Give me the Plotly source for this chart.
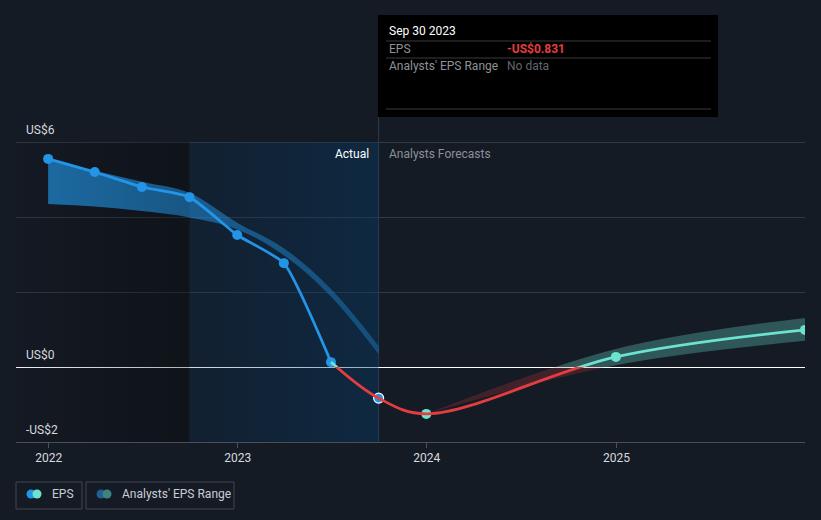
import plotly.graph_objects as go

# ---------------- data ----------------
actual_dates = ["2021-12-31", "2022-03-31", "2022-06-30", "2022-09-30",
                "2022-12-31", "2023-03-31", "2023-06-30", "2023-09-30"]
actual_eps = [5.55, 5.20, 4.80, 4.53, 3.52, 2.77, 0.13, -0.831]

past_range_low = [4.35, 4.28, 4.16, 3.99, 3.67, 2.98, 1.88, 0.34]
past_range_high = [5.53, 5.23, 4.94, 4.64, 3.85, 3.17, 2.08, 0.56]

forecast_dates = ["2023-12-31", "2024-12-31", "2025-12-31"]
forecast_eps = [-1.25, 0.27, 0.99]
forecast_low = [-1.25, 0.05, 0.70]
forecast_high = [-1.25, 0.48, 1.31]

year_ticks = ["2022-01-01", "2023-01-01", "2024-01-01", "2025-01-01"]
year_labels = ["2022", "2023", "2024", "2025"]
y_ticks = [-2, 0, 2, 4, 6]
y_labels = ["-US$2", "US$0", "", "", "US$6"]

x_start, x_end = "2021-10-30", "2025-12-31"
hl_start, hl_end = "2022-09-30", "2023-09-30"   # last-year highlight
tooltip_date = "Sep 30 2023"
tooltip_value = "-US$0.831"

# ---------------- layout geometry ----------------
W, H = 821, 520
ML, MR, MT, MB = 16, 16, 15, 78
PW, PH = W - ML - MR, H - MT - MB
PX_PER_UNIT = 37.5
y_lo = -2
y_hi = y_lo + PH / PX_PER_UNIT
f0 = (0 - y_lo) / (y_hi - y_lo)


def pxx(x):
    return (x - ML) / PW


def pxy(y):
    return (H - MB - y) / PH


BG = "#151b25"
BLUE = "#2394e6"
GREEN = "#6de2cf"
RED = "#e43d40"
FONT = "Roboto, Open Sans, sans-serif"

fig = go.Figure()

# background regions (gradient fills)
fig.add_trace(go.Scatter(
    x=[x_start, hl_start, hl_start, x_start, x_start], y=[-2, -2, 6, 6, -2],
    mode="lines", line=dict(width=0), fill="toself",
    fillgradient=dict(type="horizontal",
                      colorscale=[[0, "rgba(0,0,0,0.06)"], [1, "rgba(0,0,0,0.30)"]]),
    hoverinfo="skip", showlegend=False))
fig.add_trace(go.Scatter(
    x=[hl_start, hl_end, hl_end, hl_start, hl_start], y=[-2, -2, 6, 6, -2],
    mode="lines", line=dict(width=0), fill="toself",
    fillgradient=dict(type="horizontal",
                      colorscale=[[0, "rgba(5,55,100,0.18)"], [1, "rgba(5,60,105,0.42)"]]),
    hoverinfo="skip", showlegend=False))

# past analysts' range
fig.add_trace(go.Scatter(x=actual_dates, y=past_range_low, mode="lines",
                         line=dict(width=0, shape="spline"), hoverinfo="skip",
                         showlegend=False))
fig.add_trace(go.Scatter(x=actual_dates, y=past_range_high, mode="lines",
                         line=dict(width=0, shape="spline"), fill="tonexty",
                         fillgradient=dict(type="horizontal",
                                           colorscale=[[0, "rgba(33,150,232,0.64)"],
                                                       [1, "rgba(33,150,232,0.34)"]]),
                         hoverinfo="skip", showlegend=False))

# forecast curve (actual tail + forecasts), clipped by sign via sub-axes
curve_x = actual_dates[-2:] + forecast_dates
curve_y = actual_eps[-2:] + forecast_eps

# forecast range band: red part (y3 below zero) and green part (y2 above zero)
for yax, col in (("y3", "rgba(228,61,64,0.22)"), ("y2", "rgba(109,226,207,0.30)")):
    fig.add_trace(go.Scatter(x=forecast_dates, y=forecast_low, yaxis=yax, mode="lines",
                             line=dict(width=0, shape="spline"), hoverinfo="skip",
                             showlegend=False))
    fig.add_trace(go.Scatter(x=forecast_dates, y=forecast_high, yaxis=yax, mode="lines",
                             line=dict(width=0, shape="spline"), fill="tonexty",
                             fillcolor=col, hoverinfo="skip", showlegend=False))

fig.add_trace(go.Scatter(x=curve_x, y=curve_y, yaxis="y3", mode="lines",
                         line=dict(color=RED, width=2.8, shape="spline"),
                         hoverinfo="skip", showlegend=False))
fig.add_trace(go.Scatter(x=curve_x, y=curve_y, yaxis="y2", mode="lines",
                         line=dict(color=GREEN, width=2.8, shape="spline"),
                         hoverinfo="skip", showlegend=False))

# actual EPS line
fig.add_trace(go.Scatter(x=actual_dates[:-1], y=actual_eps[:-1], mode="lines+markers",
                         line=dict(color=BLUE, width=2.8, shape="spline", smoothing=0.5),
                         marker=dict(size=10, color=BLUE),
                         hoverinfo="skip", showlegend=False))
fig.add_trace(go.Scatter(x=actual_dates[-1:], y=actual_eps[-1:], mode="markers",
                         marker=dict(size=10, color=BLUE, line=dict(color="white", width=1.2)),
                         hoverinfo="skip", showlegend=False))
fig.add_trace(go.Scatter(x=forecast_dates, y=forecast_eps, mode="markers",
                         marker=dict(size=10, color=GREEN),
                         hoverinfo="skip", showlegend=False))

shapes = []
annotations = []

# hover guide line
shapes.append(dict(type="line", xref="x", yref="paper", x0=hl_end, x1=hl_end, y0=0, y1=1,
                   line=dict(color="rgba(120,150,180,0.25)", width=1), layer="below"))

# tooltip
shapes.append(dict(type="rect", xref="paper", yref="paper",
                   x0=pxx(378), x1=pxx(718), y0=pxy(117), y1=pxy(15),
                   fillcolor="#000000", line=dict(width=0), layer="above"))
for yy in (41, 58, 109):
    shapes.append(dict(type="line", xref="paper", yref="paper",
                       x0=pxx(386), x1=pxx(711), y0=pxy(yy), y1=pxy(yy),
                       line=dict(color="#3a3a3a", width=1), layer="above"))


def txt(x, y, s, color, size=12, anchor="left", bold=False):
    annotations.append(dict(xref="paper", yref="paper", x=pxx(x), y=pxy(y),
                            text=("<b>%s</b>" % s) if bold else s, showarrow=False,
                            xanchor=anchor, yanchor="middle",
                            font=dict(family=FONT, size=size, color=color)))


txt(387, 31, tooltip_date, "#ffffff")
txt(387, 49, "EPS", "#8e9298")
txt(505, 49, tooltip_value, RED, bold=True)
txt(387, 66, "Analysts' EPS Range", "#8e9298")
txt(505, 66, "No data", "#62666c")

# y-axis value labels placed above their gridlines
for v, lab in zip(y_ticks, y_labels):
    if lab:
        annotations.append(dict(xref="paper", yref="y", x=pxx(24), y=v, text=lab,
                                showarrow=False, xanchor="left", yanchor="middle", yshift=12,
                                font=dict(family=FONT, size=12, color="#d6d9de")))

# Actual / Analysts Forecasts labels
annotations.append(dict(xref="x", yref="paper", x=hl_end, y=pxy(154), text="Actual",
                        showarrow=False, xanchor="right", yanchor="middle", xshift=-8,
                        font=dict(family=FONT, size=12, color="#ffffff")))
annotations.append(dict(xref="x", yref="paper", x=hl_end, y=pxy(154), text="Analysts Forecasts",
                        showarrow=False, xanchor="left", yanchor="middle", xshift=8,
                        font=dict(family=FONT, size=12, color="#8b9099")))

# legend boxes
for x0, x1 in ((16, 82), (86, 234)):
    shapes.append(dict(type="rect", xref="paper", yref="paper",
                       x0=pxx(x0), x1=pxx(x1), y0=pxy(509), y1=pxy(482),
                       fillcolor="rgba(0,0,0,0)", line=dict(color="#40454e", width=1)))
for cx, col in ((31, BLUE), (37, GREEN), (101, "#1f5f93"), (107, "#3f847c")):
    shapes.append(dict(type="circle", xref="paper", yref="paper",
                       xsizemode="pixel", ysizemode="pixel",
                       xanchor=pxx(cx), yanchor=pxy(494),
                       x0=-4.5, x1=4.5, y0=-4.5, y1=4.5,
                       fillcolor=col, line=dict(width=0)))
txt(50, 494, "EPS", "#c9cdd3")
txt(120, 494, "Analysts' EPS Range", "#c9cdd3")

fig.update_layout(
    width=W, height=H,
    margin=dict(l=ML, r=MR, t=MT, b=MB),
    paper_bgcolor=BG, plot_bgcolor="rgba(0,0,0,0)",
    font=dict(family=FONT, size=12, color="#d6d9de"),
    showlegend=False, hovermode=False,
    shapes=shapes, annotations=annotations,
    xaxis=dict(type="date", range=[x_start, x_end], tickvals=year_ticks, ticktext=year_labels,
               showgrid=False, zeroline=False, showline=True, linecolor="#4a4e57",
               ticks="outside", ticklen=5, tickcolor="#4a4e57",
               tickfont=dict(family=FONT, size=12, color="#d6d9de"), fixedrange=True),
    yaxis=dict(range=[y_lo, y_hi], tickvals=y_ticks, showticklabels=False,
               showgrid=True, gridcolor="#333842", gridwidth=1,
               zeroline=True, zerolinecolor="#ffffff", zerolinewidth=1,
               ticks="", fixedrange=True),
    yaxis2=dict(domain=[f0, 1], range=[0, y_hi], anchor="x", visible=False, fixedrange=True),
    yaxis3=dict(domain=[0, f0], range=[y_lo, 0], anchor="x", visible=False, fixedrange=True),
)

fig.write_html("out.html", config={"displayModeBar": False},
               post_script="document.body.style.margin='0';"
                           "document.body.style.background='%s';" % BG)
